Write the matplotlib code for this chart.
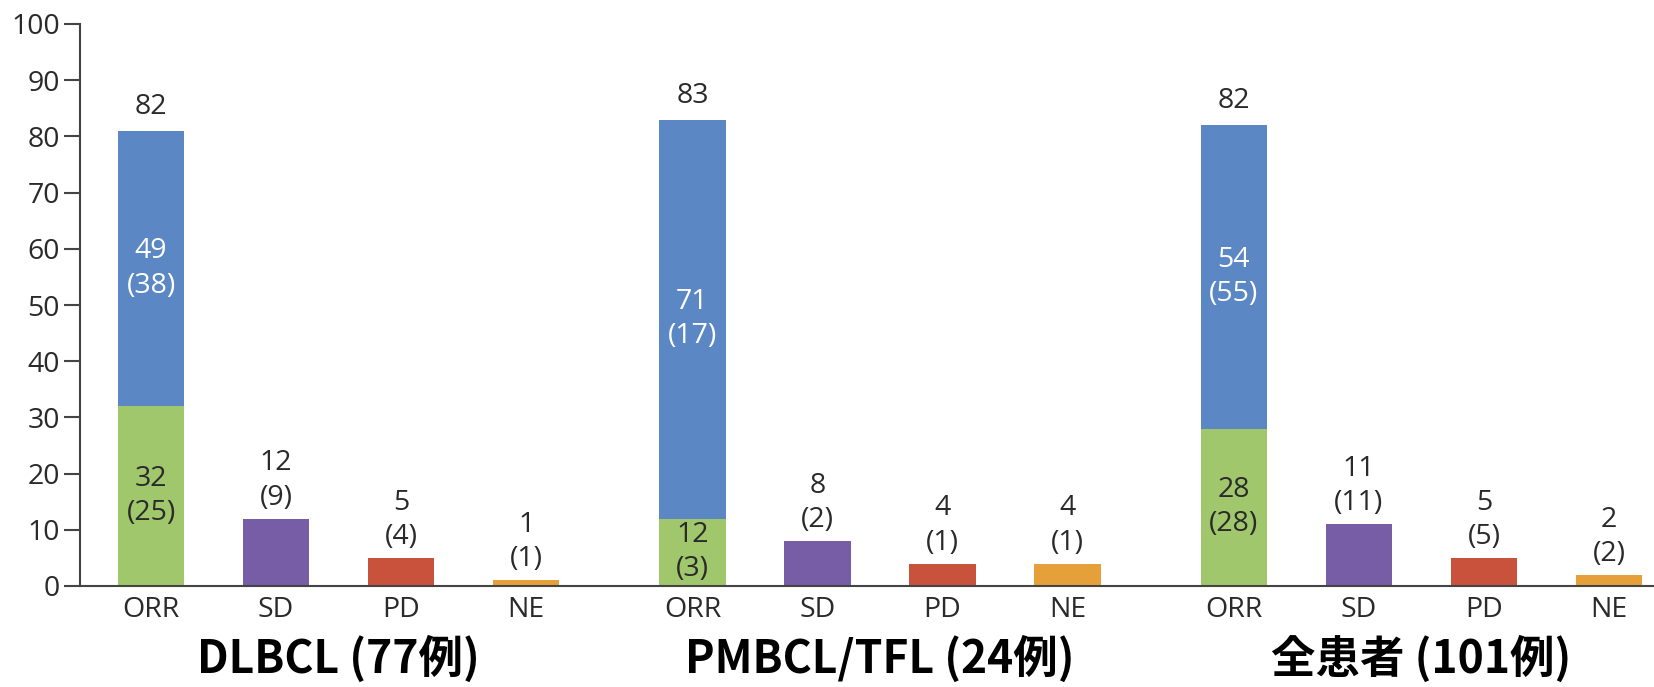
import matplotlib
matplotlib.use("Agg")
import matplotlib.pyplot as plt
import matplotlib.transforms as mtransforms
import numpy as np

# data (percent, with patient counts in brackets)
categories = ["ORR", "SD", "PD", "NE"]
groups = ["DLBCL (77例)", "PMBCL/TFL (24例)", "全患者 (101例)"]

orr_pct = [82, 83, 82]
cr_pct = [32, 12, 28]
cr_n = [25, 3, 28]
pr_pct = [49, 71, 54]
pr_n = [38, 17, 55]
sd_pct = [12, 8, 11]
sd_n = [9, 2, 11]
pd_pct = [5, 4, 5]
pd_n = [4, 1, 5]
ne_pct = [1, 4, 2]
ne_n = [1, 1, 2]

C_PR = "#5B88C4"
C_CR = "#A0C76B"
C_SD = "#775CA6"
C_PD = "#C8523C"
C_NE = "#E5A03A"
TXT = "#2a2a2a"

plt.rcParams["font.family"] = ["Open Sans", "DejaVu Sans"]

fig = plt.figure(figsize=(16.54, 6.87), dpi=100)
ax = fig.add_axes([80 / 1654, 1 - 586 / 687, 1 - 80 / 1654, 562 / 687])

stride = 4.33
width = 0.53
fs = 20.5

for g in range(len(groups)):
    x0 = g * stride
    xs = x0 + np.arange(len(categories))
    # ORR stacked bar: CR (green) below, PR (blue) above
    ax.bar(xs[0], cr_pct[g], width, color=C_CR)
    ax.bar(xs[0], pr_pct[g], width, bottom=cr_pct[g], color=C_PR)
    top = cr_pct[g] + pr_pct[g]
    ax.text(xs[0], cr_pct[g] / 2, f"{cr_pct[g]}\n({cr_n[g]})", ha="center",
            va="center", fontsize=fs, color=TXT, linespacing=1.3)
    ax.text(xs[0], cr_pct[g] + pr_pct[g] / 2, f"{pr_pct[g]}\n({pr_n[g]})",
            ha="center", va="center", fontsize=fs, color="white", linespacing=1.3)
    ax.annotate(f"{orr_pct[g]}", (xs[0], top), xytext=(0, 7),
                textcoords="offset points", ha="center", va="bottom",
                fontsize=fs, color=TXT)
    for i, (vals, ns, col) in enumerate([(sd_pct, sd_n, C_SD),
                                         (pd_pct, pd_n, C_PD),
                                         (ne_pct, ne_n, C_NE)], start=1):
        ax.bar(xs[i], vals[g], width, color=col)
        ax.annotate(f"{vals[g]}\n({ns[g]})", (xs[i], vals[g]), xytext=(0, 5),
                    textcoords="offset points", ha="center", va="bottom",
                    fontsize=fs, color=TXT, linespacing=1.3)

xticks = [g * stride + i for g in range(len(groups)) for i in range(len(categories))]
ax.set_xticks(xticks)
ax.set_xticklabels(categories * len(groups), fontsize=fs, color=TXT)
ax.tick_params(axis="x", length=0, pad=7)

ax.set_xlim(-0.568, 2 * stride + 3.0 + 0.36)
ax.set_ylim(0, 100)
ax.set_yticks(np.arange(0, 101, 10))
ax.tick_params(axis="y", length=11.5, width=1.5, color="#444444", pad=3,
               labelsize=fs, labelcolor=TXT)

for s in ("top", "right"):
    ax.spines[s].set_visible(False)
for s in ("left", "bottom"):
    ax.spines[s].set_color("#444444")
    ax.spines[s].set_linewidth(1.5)

trans = mtransforms.blended_transform_factory(ax.transData, ax.transAxes)
for g, name in enumerate(groups):
    ax.text(g * stride + 1.5, -0.155, name, transform=trans, ha="center",
            va="baseline", fontsize=32, fontweight="bold", color="black",
            family=["Noto Sans CJK JP", "DejaVu Sans"])

fig.savefig("out.png", dpi=100, facecolor="white")
